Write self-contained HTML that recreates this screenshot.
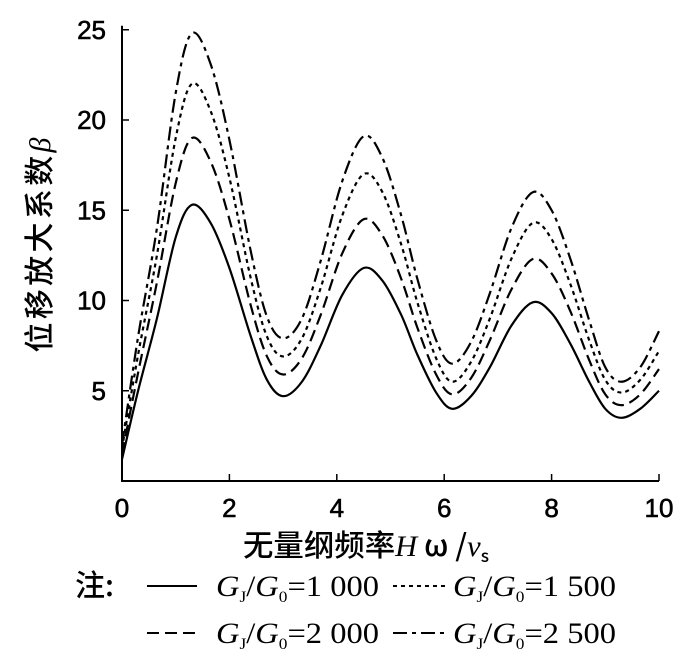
<!DOCTYPE html>
<html><head><meta charset="utf-8"><style>
body{margin:0;background:#fff;width:700px;height:664px;overflow:hidden}
svg text{font-family:"Liberation Sans","Noto Sans CJK SC",sans-serif;fill:#000}
.ser{font-family:"Liberation Serif","Noto Serif CJK SC",serif}
.tk{stroke:#000;stroke-width:0.6}
</style></head><body>
<svg id="c" width="700" height="664" xmlns="http://www.w3.org/2000/svg">
<g id="axes"></g>
<g id="lines"></g>
<text x="0" y="0" transform="translate(50,245) rotate(-90)" text-anchor="middle" font-size="30" textLength="215" style="font-family:'Noto Sans CJK SC','Liberation Sans',sans-serif;font-weight:500">位移放大系数<tspan font-style="italic" style="font-family:'Liberation Serif',serif">β</tspan></text>
<text x="243" y="556" font-size="30" textLength="246" lengthAdjust="spacingAndGlyphs" style="font-family:'Noto Sans CJK SC','Liberation Serif',serif;font-weight:500">无量纲频率<tspan font-style="italic" style="font-family:'Liberation Serif',serif">H</tspan> ω /<tspan font-style="italic" style="font-family:'Liberation Serif',serif">v</tspan><tspan font-size="17" dy="6">s</tspan></text>
<g style="font-family:'Liberation Serif','Noto Serif CJK SC',serif" font-size="30">
<text x="75" y="596" style="font-family:'Noto Sans CJK SC',sans-serif;font-weight:500">注:</text>
<line x1="147" y1="586" x2="197" y2="586" stroke="#000" stroke-width="2"/>
<text x="216" y="596" textLength="163" lengthAdjust="spacingAndGlyphs" class="ser"><tspan font-style="italic">G</tspan><tspan font-size="16" dy="6">J</tspan><tspan dy="-6">/</tspan><tspan font-style="italic">G</tspan><tspan font-size="16" dy="6">0</tspan><tspan dy="-6">=1 000</tspan></text>
<line x1="393" y1="586" x2="445" y2="586" stroke="#000" stroke-width="2" stroke-dasharray="4 4"/>
<text x="453" y="596" textLength="163" lengthAdjust="spacingAndGlyphs" class="ser"><tspan font-style="italic">G</tspan><tspan font-size="16" dy="6">J</tspan><tspan dy="-6">/</tspan><tspan font-style="italic">G</tspan><tspan font-size="16" dy="6">0</tspan><tspan dy="-6">=1 500</tspan></text>
<line x1="147" y1="633" x2="197" y2="633" stroke="#000" stroke-width="2" stroke-dasharray="12 6"/>
<text x="216" y="643" textLength="163" lengthAdjust="spacingAndGlyphs" class="ser"><tspan font-style="italic">G</tspan><tspan font-size="16" dy="6">J</tspan><tspan dy="-6">/</tspan><tspan font-style="italic">G</tspan><tspan font-size="16" dy="6">0</tspan><tspan dy="-6">=2 000</tspan></text>
<line x1="393" y1="633" x2="445" y2="633" stroke="#000" stroke-width="2" stroke-dasharray="14 5 4 5"/>
<text x="453" y="643" textLength="163" lengthAdjust="spacingAndGlyphs" class="ser"><tspan font-style="italic">G</tspan><tspan font-size="16" dy="6">J</tspan><tspan dy="-6">/</tspan><tspan font-style="italic">G</tspan><tspan font-size="16" dy="6">0</tspan><tspan dy="-6">=2 500</tspan></text>
</g>
</svg>
<script>
const xs=[0,0.3,0.65,1.0,1.3,1.65,2.0,2.4,2.7,3.0,3.35,3.7,4.1,4.5,4.85,5.2,5.5,5.85,6.15,6.5,6.85,7.25,7.65,8.0,8.35,8.7,9.0,9.3,9.65,10];
const s1000=[1.2,5,9,13.5,15.3,14.3,11.8,8.0,5.6,4.7,5.5,7.5,10.3,11.8,11.1,9.2,7.0,4.9,4.0,4.7,6.3,8.6,9.9,9.3,7.6,5.5,4.0,3.5,4.0,5.0];
const s1500=[1.8,7,12.5,19,22,20.5,16.8,11.2,8.0,6.9,7.9,10.7,14.7,17,16,13.1,9.9,6.8,5.5,6.6,9.0,12.3,14.3,13.4,10.9,7.8,5.6,4.9,5.6,7.2];
const s2000=[1.5,6,11,16.5,19,17.7,14.5,9.7,6.9,5.9,6.8,9.2,12.6,14.5,13.6,11.2,8.5,5.9,4.8,5.7,7.8,10.6,12.3,11.5,9.4,6.7,4.8,4.2,4.8,6.2];
const s2500=[2,8,14,21.5,24.8,23.1,18.9,12.7,9.1,7.9,9.0,12.2,16.6,19.1,17.9,14.7,11.2,7.8,6.5,7.7,10.4,14.0,16,15.0,12.3,8.9,6.3,5.5,6.3,8.3];
const xTicks=[0,2,4,6,8,10];
const yTicks=[5,10,15,20,25];
const X=v=>122+v*53.7, Y=v=>481-v*18.05;
const NS="http://www.w3.org/2000/svg";
const ax=document.getElementById('axes'), ln=document.getElementById('lines');
function mk(t,a,p){const e=document.createElementNS(NS,t);for(const k in a)e.setAttribute(k,a[k]);p.appendChild(e);return e;}
let e=mk('path',{d:`M${X(0)},${Y(25)-4}V${Y(0)}H${X(10)}`,fill:'none',stroke:'#000','stroke-width':2},ax);


xTicks.forEach(t=>{const l=mk('line',{x1:X(t),x2:X(t),y1:Y(0),y2:Y(0)-7,stroke:'#000','stroke-width':1.5},ax);


const tx=mk('text',{x:X(t),y:Y(0)+36,'text-anchor':'middle','font-size':26,class:'tk'},ax);tx.textContent=t;

});
yTicks.forEach(t=>{const l=mk('line',{x1:X(0),x2:X(0)+7,y1:Y(t),y2:Y(t),stroke:'#000','stroke-width':1.5},ax);


const tx=mk('text',{x:X(0)-16,y:Y(t)+9,'text-anchor':'end','font-size':26,class:'tk'},ax);tx.textContent=t;

});
function path(vals){const p=xs.map((x,i)=>[X(x),Y(vals[i])]);let d=`M${p[0][0]},${p[0][1]}`;
for(let i=0;i<p.length-1;i++){const p0=p[i-1]||p[i],p1=p[i],p2=p[i+1],p3=p[i+2]||p2;
d+=`C${p1[0]+(p2[0]-p0[0])/6},${p1[1]+(p2[1]-p0[1])/6} ${p2[0]-(p3[0]-p1[0])/6},${p2[1]-(p3[1]-p1[1])/6} ${p2[0]},${p2[1]}`;}return d;}
[[s1000,'none','series-1000'],[s1500,'4 4','series-1500'],[s2000,'12 6','series-2000'],[s2500,'14 5 4 5','series-2500']].forEach(([v,da,n])=>{
const p=mk('path',{d:path(v),fill:'none',stroke:'#000','stroke-width':2.2,'stroke-dasharray':da},ln);

});
</script>
</body></html>
